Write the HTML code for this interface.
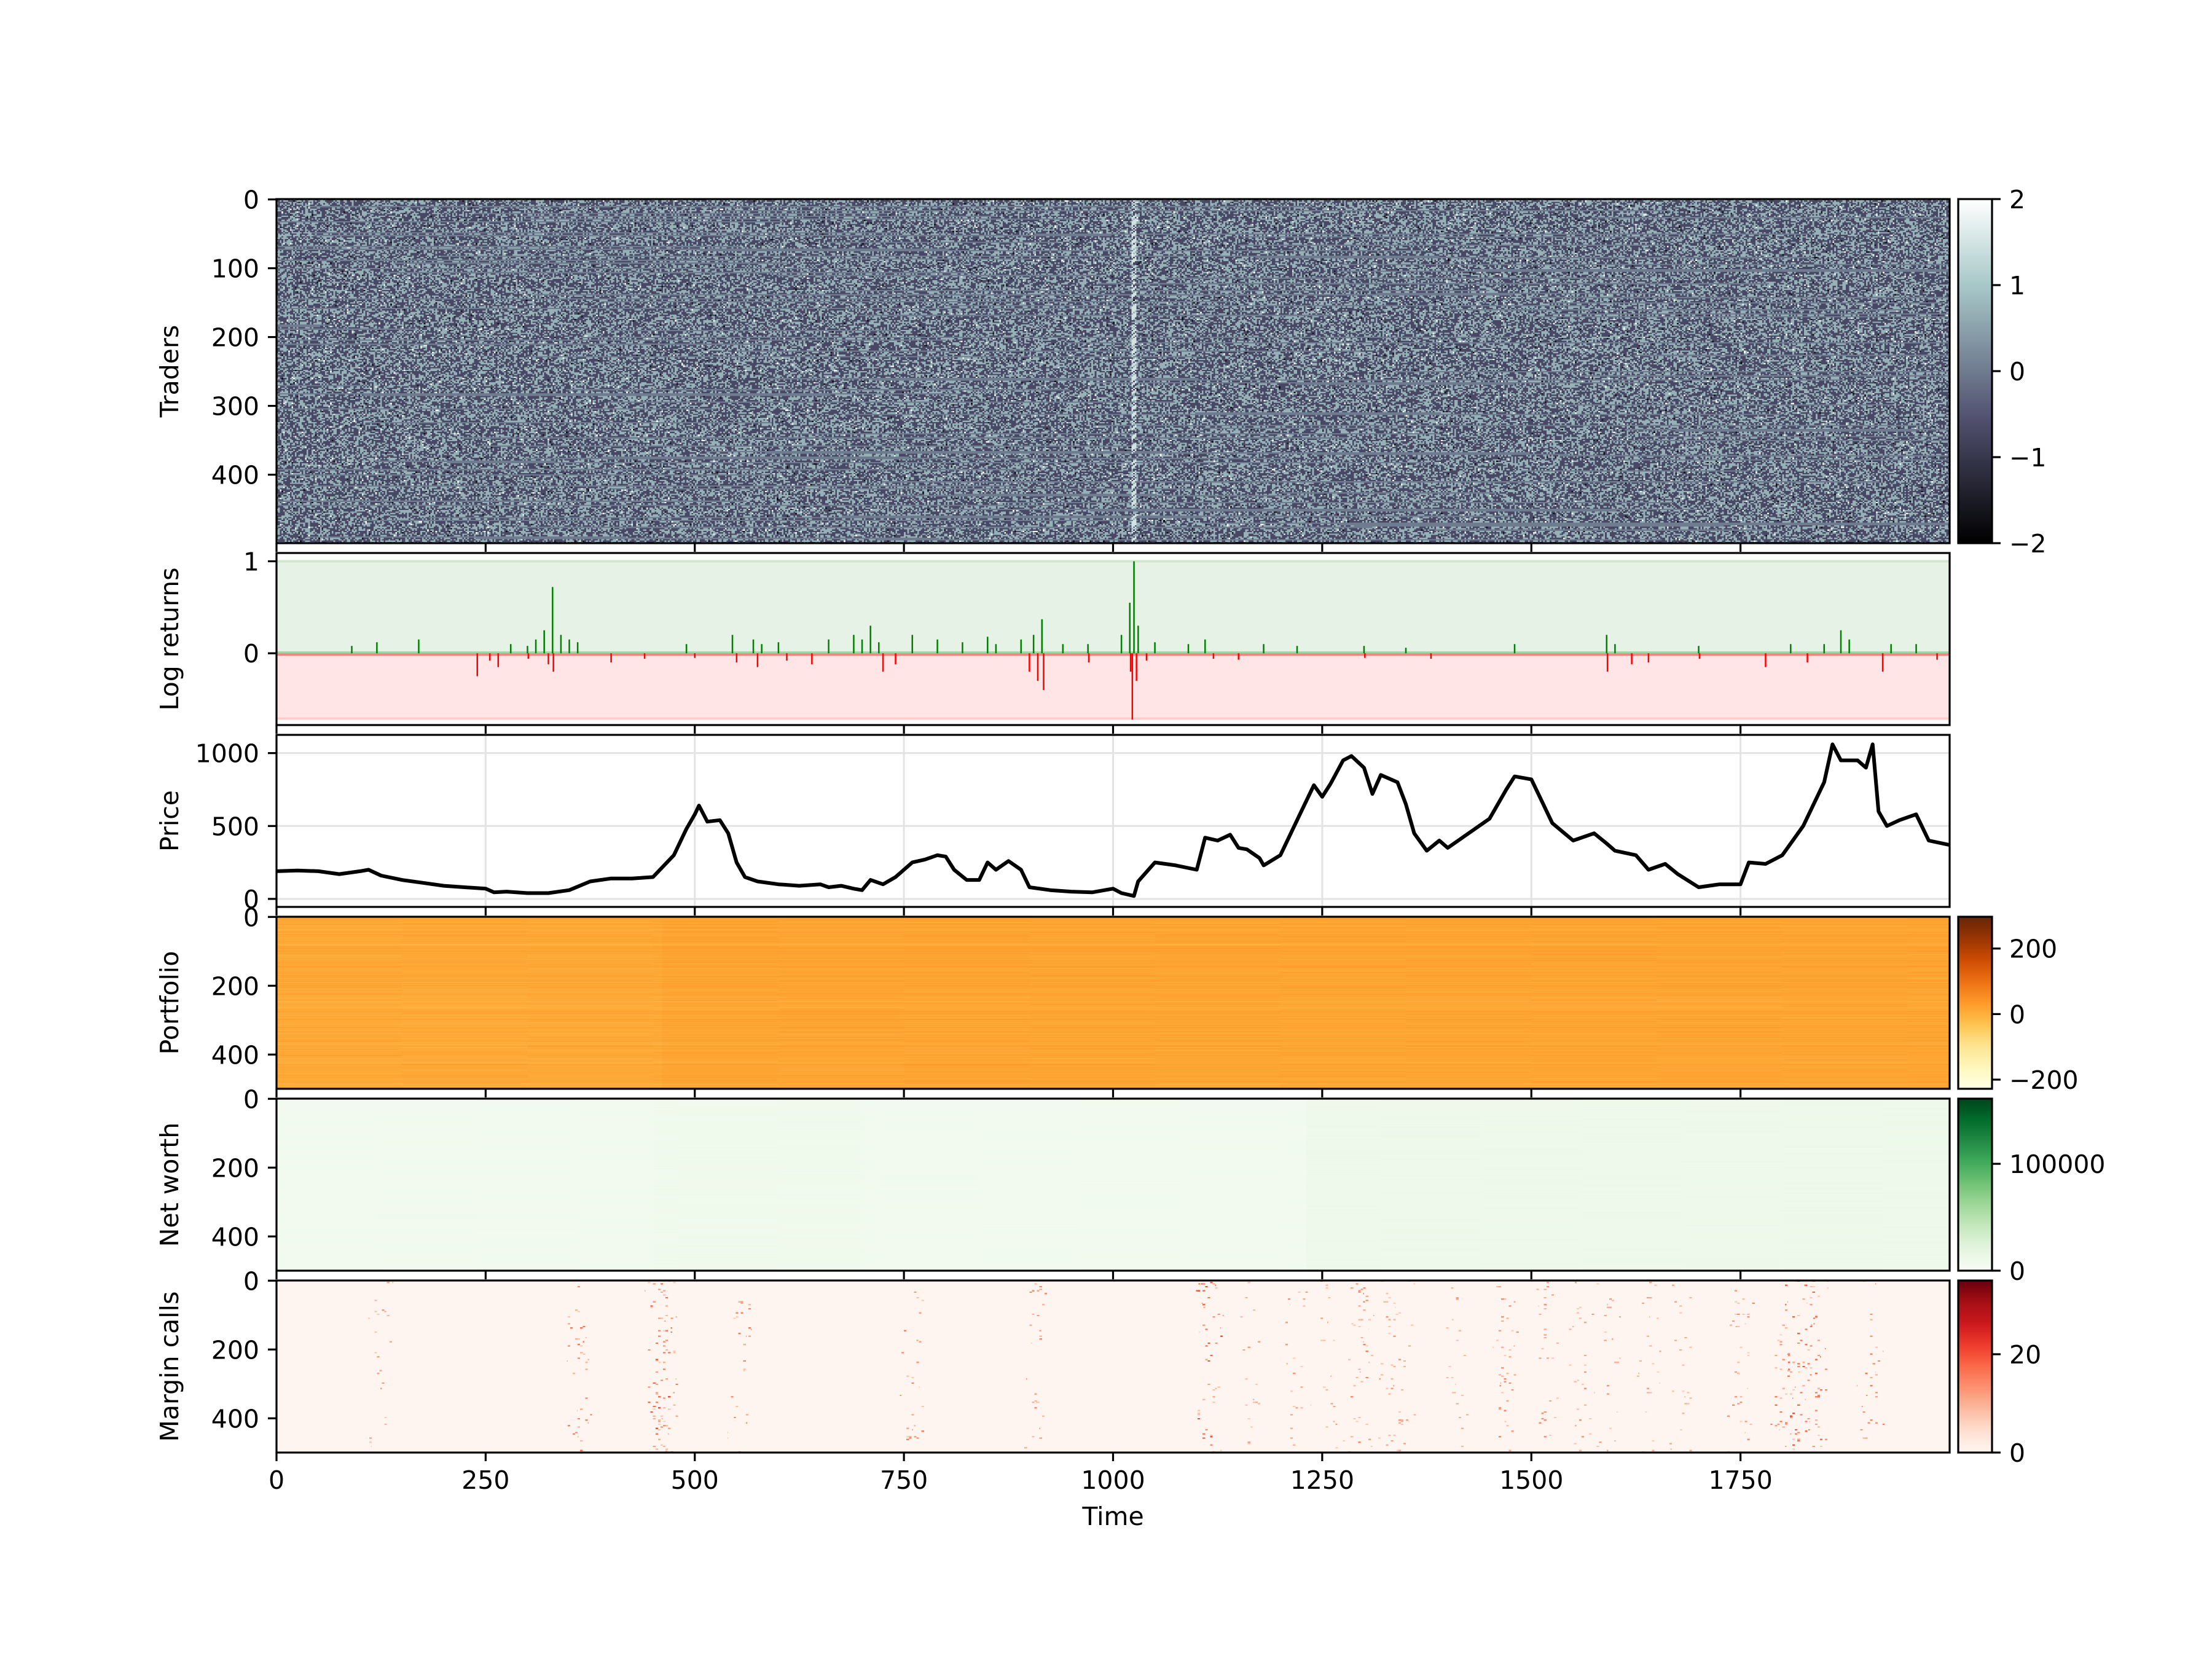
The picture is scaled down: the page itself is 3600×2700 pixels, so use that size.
<!DOCTYPE html>
<html><head><meta charset="utf-8">
<style>
html,body{margin:0;padding:0;background:#fff;}
#root{position:relative;width:3600px;height:2700px;overflow:hidden;background:#fff;}
canvas{position:absolute;image-rendering:pixelated;}
svg{position:absolute;left:0;top:0;}
text{font-family:"DejaVu Sans","Liberation Sans",sans-serif;font-size:41px;fill:#000;}
</style></head>
<body>
<div id="root">
<canvas id="cTraders" width="1000" height="250" style="left:450px;top:324px;width:2723px;height:560px"></canvas>
<canvas id="cPort" width="2000" height="500" style="left:450px;top:1492px;width:2723px;height:280px"></canvas>
<canvas id="cNet" width="2000" height="500" style="left:450px;top:1788px;width:2723px;height:280px"></canvas>
<canvas id="cMargin" width="2000" height="500" style="left:450px;top:2084px;width:2723px;height:280px"></canvas>
<svg id="svg" width="3600" height="2700"></svg>
</div>
<script>
// ---------- data ----------
const priceTimes = [0,25,50,75,100,110,125,150,175,200,225,250,260,275,300,325,350,375,400,425,450,475,490,500,505,515,530,540,550,560,575,600,625,650,660,675,690,700,710,725,740,760,775,790,800,810,825,840,850,860,875,890,900,925,950,975,990,1000,1010,1025,1030,1050,1075,1100,1110,1125,1140,1150,1160,1175,1180,1200,1225,1240,1250,1260,1275,1285,1300,1310,1320,1340,1350,1360,1375,1390,1400,1425,1450,1470,1480,1500,1510,1525,1550,1575,1590,1600,1625,1640,1660,1675,1700,1725,1750,1760,1780,1800,1825,1850,1860,1870,1890,1900,1908,1915,1925,1940,1960,1975,2000];
const priceValues = [190,195,190,170,190,200,160,130,110,90,80,70,45,50,40,40,60,120,140,140,150,300,480,580,640,530,540,450,250,150,120,100,90,100,80,90,70,60,130,100,150,250,270,300,290,200,130,130,250,200,260,200,80,60,50,45,60,70,40,20,120,250,230,200,420,400,440,350,340,280,230,300,600,780,700,790,950,980,900,720,850,800,650,450,330,400,350,450,550,750,840,820,700,520,400,450,380,330,300,200,240,170,80,100,100,250,240,300,500,800,1060,950,950,900,1060,600,500,540,580,400,370];
const priceTicks = [0,500,1000];
const timeTicks = [0,250,500,750,1000,1250,1500,1750];
const returnTimes = [90,120,170,280,300,310,320,330,340,350,360,490,545,570,580,600,660,690,700,710,720,760,790,820,850,860,890,905,915,940,970,1010,1020,1025,1030,1050,1090,1110,1180,1220,1300,1350,1480,1590,1600,1700,1810,1850,1870,1880,1930,1960,
 240,255,265,325,331,301,400,440,500,550,575,610,640,725,740,900,910,917,971,1021,1023,1028,1040,1120,1150,1301,1380,1591,1620,1640,1701,1780,1830,1920,1985];
const returnValues = [0.08,0.12,0.15,0.1,0.08,0.15,0.25,0.72,0.2,0.15,0.12,0.1,0.2,0.15,0.1,0.12,0.15,0.2,0.15,0.3,0.12,0.2,0.15,0.12,0.18,0.1,0.15,0.2,0.37,0.1,0.1,0.2,0.55,1.0,0.3,0.12,0.1,0.15,0.1,0.08,0.08,0.06,0.1,0.2,0.1,0.08,0.1,0.1,0.25,0.15,0.1,0.1,
 -0.25,-0.08,-0.15,-0.12,-0.2,-0.06,-0.1,-0.06,-0.05,-0.1,-0.15,-0.08,-0.12,-0.2,-0.12,-0.2,-0.3,-0.4,-0.1,-0.2,-0.72,-0.3,-0.08,-0.06,-0.07,-0.05,-0.06,-0.2,-0.12,-0.1,-0.06,-0.15,-0.1,-0.2,-0.07];
const returnTicks = [0,1];
const traderTicks = [0,100,200,300,400];
const rowTicks = [0,200,400];
const marginBandTimes = [125,360,455,465,555,760,910,1115,1165,1220,1260,1295,1330,1345,1410,1470,1520,1560,1590,1640,1680,1750,1800,1820,1840,1905];
const marginBandStrength = [6,9,12,10,8,8,7,12,5,6,6,8,6,6,5,8,7,6,6,5,5,7,10,12,10,9];
const traderCbarTicks = [-2,-1,0,1,2];
const portCbarTicks = [-200,0,200];
const netCbarTicks = [0,100000];
const marginCbarTicks = [0,20];

// ---------- layout ----------
const L=450,R=3173,X0=0,X1=2000;
const xs = t => L + (t-X0)/(X1-X0)*(R-L);
const rows = {tr:[324,884],lr:[900,1180],pr:[1196,1476],po:[1492,1772],nw:[1788,2068],mc:[2084,2364]};
const CBX=3187, CBW=55;
const NS="http://www.w3.org/2000/svg";
const svg=document.getElementById('svg');
function el(tag,attrs,parent){const e=document.createElementNS(NS,tag);for(const k in attrs)e.setAttribute(k,attrs[k]);(parent||svg).appendChild(e);return e;}
const TL=14, SW=3.2;
function fmt(v){return v<0?'\u2212'+Math.abs(v):String(v);}

// log returns panel
(function(){
 const [t,b]=rows.lr; const y0=-0.78,y1=1.09;
 const ys=v=>b-(v-y0)/(y1-y0)*(b-t);
 const g=el('g',{});
 el('rect',{x:L,y:ys(1),width:R-L,height:ys(0)-ys(1),fill:'#e5f2e5'},g);
 el('rect',{x:L,y:ys(0),width:R-L,height:ys(-0.71)-ys(0),fill:'#ffe5e5'},g);
 el('line',{x1:L,x2:R,y1:ys(1),y2:ys(1),stroke:'#cfe6cf','stroke-width':4},g);
 el('line',{x1:L,x2:R,y1:ys(-0.71),y2:ys(-0.71),stroke:'#ffcccc','stroke-width':4},g);
 el('rect',{x:L,y:ys(0),width:R-L,height:4,fill:'#f04040',opacity:0.6},g);
 el('rect',{x:L,y:ys(0)-3,width:R-L,height:3,fill:'#4caf4c',opacity:0.45},g);
 returnTimes.forEach((tt,i)=>{const v=returnValues[i];
  const ln=el('line',{x1:xs(tt),x2:xs(tt),y1:ys(0),y2:ys(v),stroke:v>=0?'#008000':'#ff0000','stroke-width':2.5},g);
  });
 returnTicks.forEach(v=>{el('line',{x1:L-TL,x2:L,y1:ys(v),y2:ys(v),stroke:'#000','stroke-width':SW});
  const tx=el('text',{x:L-28,y:ys(v)+15,'text-anchor':'end'});tx.textContent=fmt(v);});
})();

// price panel
(function(){
 const [t,b]=rows.pr; const y0=-55,y1=1125;
 const ys=v=>b-(v-y0)/(y1-y0)*(b-t);
 const g=el('g',{});
 timeTicks.forEach(v=>el('line',{x1:xs(v),x2:xs(v),y1:t,y2:b,stroke:'#e3e3e3','stroke-width':3},g));
 priceTicks.forEach(v=>el('line',{x1:L,x2:R,y1:ys(v),y2:ys(v),stroke:'#e3e3e3','stroke-width':3},g));
 const d=priceTimes.map((tt,i)=>(i?'L':'M')+xs(tt).toFixed(1)+','+ys(priceValues[i]).toFixed(1)).join(' ');
 const p=el('path',{d:d,fill:'none',stroke:'#000','stroke-width':6,'stroke-linejoin':'round'},g);
 
 priceTicks.forEach(v=>{el('line',{x1:L-TL,x2:L,y1:ys(v),y2:ys(v),stroke:'#000','stroke-width':SW});
  const tx=el('text',{x:L-28,y:ys(v)+15,'text-anchor':'end'});tx.textContent=fmt(v);});
})();

// heatmap y ticks
function rowAxis(key,ticks){const [t,b]=rows[key];const ys=v=>t+(v+0.5)/500*(b-t);
 ticks.forEach(v=>{el('line',{x1:L-TL,x2:L,y1:ys(v),y2:ys(v),stroke:'#000','stroke-width':SW});
  const tx=el('text',{x:L-28,y:ys(v)+15,'text-anchor':'end'});tx.textContent=fmt(v);});}
rowAxis('tr',traderTicks);rowAxis('po',rowTicks);rowAxis('nw',rowTicks);rowAxis('mc',rowTicks);

// frames + x ticks
Object.keys(rows).forEach(k=>{const [t,b]=rows[k];
 const r=el('rect',{x:L,y:t,width:R-L,height:b-t,fill:'none',stroke:'#000','stroke-width':SW});
 
 timeTicks.forEach(v=>el('line',{x1:xs(v),x2:xs(v),y1:b,y2:b+TL,stroke:'#000','stroke-width':SW}));});
timeTicks.forEach(v=>{const tx=el('text',{x:xs(v),y:rows.mc[1]+TL+14+31,'text-anchor':'middle'});tx.textContent=v;
 });
const xl=el('text',{x:(L+R)/2,y:2482,'text-anchor':'middle'});xl.textContent='Time';


// y labels
[['tr','Traders'],['lr','Log returns'],['pr','Price'],['po','Portfolio'],['nw','Net worth'],['mc','Margin calls']].forEach(([k,s])=>{
 const x=290;const c=(rows[k][0]+rows[k][1])/2;const tx=el('text',{x:x,y:c,'text-anchor':'middle',transform:`rotate(-90 ${x} ${c})`});tx.textContent=s;
 });

// colormaps
const cmBone=[[0,0,0,0],[0.365,81,81,113],[0.746,166,199,199],[1,255,255,255]];
function stopsEven(a){return a.map((c,i)=>[i/(a.length-1),c[0],c[1],c[2]]);}
const cmYlOrBr=stopsEven([[255,255,229],[255,247,188],[254,227,145],[254,196,79],[254,153,41],[236,112,20],[204,76,2],[153,52,4],[102,37,6]]);
const cmGreens=stopsEven([[247,252,245],[229,245,224],[199,233,192],[161,217,155],[116,196,118],[65,171,93],[35,139,69],[0,109,44],[0,68,27]]);
const cmReds=stopsEven([[255,245,240],[254,224,210],[252,187,161],[252,146,114],[251,106,74],[239,59,44],[203,24,29],[165,15,21],[103,0,13]]);
function cmap(cm,t){t=Math.max(0,Math.min(1,t));for(let i=1;i<cm.length;i++){if(t<=cm[i][0]){const a=cm[i-1],b=cm[i],f=(t-a[0])/(b[0]-a[0]);return [a[1]+f*(b[1]-a[1]),a[2]+f*(b[2]-a[2]),a[3]+f*(b[3]-a[3])];}}const z=cm[cm.length-1];return [z[1],z[2],z[3]];}

// colorbars
let gid=0;
function cbar(key,cm,vmin,vmax,ticks,name){const [t,b]=rows[key];const x=CBX,w=CBW;
 const id='g'+(gid++);const lg=el('linearGradient',{id:id,x1:0,y1:1,x2:0,y2:0});
 for(let i=0;i<=20;i++){const c=cmap(cm,i/20);el('stop',{offset:i/20,'stop-color':`rgb(${c.map(Math.round).join(',')})`},lg);}
 const r=el('rect',{x:x,y:t,width:w,height:b-t,fill:`url(#${id})`,stroke:'#000','stroke-width':SW});
 
 const ys=v=>b-(v-vmin)/(vmax-vmin)*(b-t);
 ticks.forEach(v=>{el('line',{x1:x+w,x2:x+w+TL,y1:ys(v),y2:ys(v),stroke:'#000','stroke-width':SW});
  const tx=el('text',{x:x+w+28,y:ys(v)+15});tx.textContent=fmt(v);});}
cbar('tr',cmBone,-2,2,traderCbarTicks,'traders-colorbar');
cbar('po',cmYlOrBr,-228,297,portCbarTicks,'portfolio-colorbar');
cbar('nw',cmGreens,0,161000,netCbarTicks,'net-worth-colorbar');
cbar('mc',cmReds,0,35,marginCbarTicks,'margin-calls-colorbar');

// heatmap textures
function H(i){const s=Math.sin(i*12.9898+78.233)*43758.5453;return s-Math.floor(s);}
function paint(id,W,Hh,fn){const c=document.getElementById(id),ctx=c.getContext('2d');const im=ctx.createImageData(W,Hh);const d=im.data;
 for(let r=0;r<Hh;r++)for(let t=0;t<W;t++){const col=fn(r,t);const k=(r*W+t)*4;d[k]=col[0];d[k+1]=col[1];d[k+2]=col[2];d[k+3]=255;}ctx.putImageData(im,0,0);}
paint('cTraders',1000,250,(r,t)=>{let v;
 const hr=H(r*3.1+1);const s=Math.floor(H(r*7.7+2)*1000)-150,e=s+Math.floor(H(r*5.3+3)*500)+100;
 if(hr<0.45&&t>=s&&t<=e)v=0;else{const h=H(r*2011+t*1.37);v=h>0.55?0.7:-0.7;const q=H(r*97+t*3.3+5);if(q<0.012)v=1.9;else if(q<0.022)v=-1.7;}
 if(t>=511&&t<=513&&H(r+t)<0.6)v=1.5;
 return cmap(cmBone,(v+2)/4);});
paint('cPort',2000,500,(r,t)=>{const base=10+(H(r*13.1)-0.5)*30+(t>460?6:0)+(H(r*5.7+Math.floor(t/150))-0.5)*16;return cmap(cmYlOrBr,(base+228)/525);});
paint('cNet',2000,500,(r,t)=>{const base=4000+(t>1230?4500:0)+(t>450&&t<700?1500:0)+H(r*11.3+Math.floor(t/120))*4000;return cmap(cmGreens,base/161000);});
paint('cMargin',2000,500,(r,t)=>{let v=0;for(let i=0;i<marginBandTimes.length;i++){const dt=Math.abs(t-marginBandTimes[i]);if(dt<=16){const bt=Math.floor(t/3),br=Math.floor(r/4);const h=H(br*31.7+bt*1.9+i);if(h<marginBandStrength[i]*0.005*(1-dt/18))v=Math.max(v,6+H(br+bt)*marginBandStrength[i]*1.2);}}return cmap(cmReds,v/35);});
</script>
</body></html>
